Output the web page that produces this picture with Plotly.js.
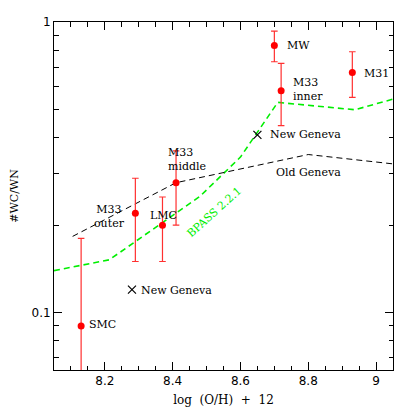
<!DOCTYPE html>
<html><head><meta charset="utf-8">
<script src="https://cdn.plot.ly/plotly-3.0.1.min.js"></script>
<style>html,body{margin:0;padding:0;background:#fff}#chart{width:415px;height:415px}</style>
</head><body><div id="chart"></div>
<script>
// Observations
const obsNames = ['SMC','M33 outer','LMC','M33 middle','MW','M33 inner','M31'];
const obsX = [8.13, 8.29, 8.37, 8.41, 8.70, 8.72, 8.93];
const obsY = [0.090, 0.22, 0.20, 0.28, 0.83, 0.58, 0.67];
const obsErrUp = [0.09, 0.07, 0.05, 0.08, 0.10, 0.14, 0.12];
const obsErrDown = [0.06, 0.07, 0.05, 0.08, 0.10, 0.14, 0.12];
// New Geneva models
const newGenX = [8.28, 8.65];
const newGenY = [0.120, 0.409];
// Old Geneva model
const oldGenX = [8.105, 8.41, 8.80, 9.05];
const oldGenY = [0.183, 0.28, 0.35, 0.325];
// BPASS 2.2.1 model
const bpassX = [8.05, 8.213, 8.48, 8.60, 8.71, 8.938, 9.05];
const bpassY = [0.1395, 0.152, 0.251, 0.343, 0.529, 0.499, 0.543];

const lab = 'DejaVu Serif';
const traces = [
  {x: bpassX, y: bpassY, mode: 'lines', line: {color: '#00ee00', width: 1.6, dash: '6px,4px'}, hoverinfo: 'skip'},
  {x: oldGenX, y: oldGenY, mode: 'lines', line: {color: '#000', width: 1, dash: '6px,4px'}, hoverinfo: 'skip'},
  {x: obsX, y: obsY, mode: 'markers', marker: {color: '#ff0000', size: 7},
   error_y: {type: 'data', symmetric: false, array: obsErrUp, arrayminus: obsErrDown, color: '#ff3030', thickness: 1.2, width: 3.3}},
  {x: newGenX, y: newGenY, mode: 'markers', marker: {symbol: 'x-thin', size: 8, line: {color: '#000', width: 1.2}}}
];
function ann(text, x, logy, xanchor, align, extra) {
  return Object.assign({text: text, x: x, y: logy, xref: 'x', yref: 'y', showarrow: false,
    xanchor: xanchor, yanchor: 'middle', align: align, font: {family: lab, size: 11, color: '#000'}}, extra || {});
}
const annotations = [
  ann('MW', 8.730, -0.0806, 'left', 'left'),
  ann('M33<br>inner', 8.750, -0.2314, 'left', 'left'),
  ann('M31', 8.960, -0.178, 'left', 'left'),
  ann('New Geneva', 8.681, -0.388, 'left', 'left'),
  ann('Old Geneva', 8.8015, -0.518, 'center', 'center'),
  ann('M33<br>middle', 8.380, -0.473, 'left', 'left'),
  ann('M33<br>outer', 8.214, -0.668, 'center', 'center'),
  ann('LMC', 8.373, -0.6646, 'center', 'center'),
  ann('New Geneva', 8.2994, -0.924, 'left', 'left'),
  ann('SMC', 8.1485, -1.040, 'left', 'left'),
  ann('BPASS 2.2.1', 8.522, -0.655, 'center', 'center', {textangle: -42, font: {family: lab, size: 11, color: '#00ee00'}})
];
const layout = {
  width: 415, height: 415,
  margin: {l: 54, r: 22, t: 22, b: 45, pad: 0},
  paper_bgcolor: '#fff', plot_bgcolor: '#fff',
  showlegend: false,
  font: {family: 'DejaVu Sans', size: 12, color: '#000'},
  xaxis: {range: [8.05, 9.05], tickvals: [8.2, 8.4, 8.6, 8.8, 9.0], ticktext: ['8.2','8.4','8.6','8.8','9'],
    ticks: 'inside', ticklen: 8, tickwidth: 1, tickcolor: '#000', mirror: 'allticks',
    showline: true, linecolor: '#000', linewidth: 1, showgrid: false, zeroline: false,
    minor: {ticks: 'inside', ticklen: 4.5, dtick: 0.05, tick0: 8.0, tickcolor: '#000', showgrid: false},
    title: {text: 'log\u00A0\u00A0(O/H)\u00A0\u00A0+\u00A0\u00A012', font: {family: lab, size: 12}, standoff: 8}},
  yaxis: {type: 'log', range: [Math.log10(0.0635), 0], tickvals: [0.1, 1], ticktext: ['0.1', '1'],
    ticks: 'inside', ticklen: 8, tickwidth: 1, tickcolor: '#000', mirror: 'allticks',
    showline: true, linecolor: '#000', linewidth: 1, showgrid: false, zeroline: false,
    minor: {ticks: 'inside', ticklen: 4.5, dtick: 'D1', tickcolor: '#000', showgrid: false},
    title: {text: '#WC/WN', font: {family: lab, size: 11}, standoff: 10}},
  annotations: annotations
};
Plotly.newPlot('chart', traces, layout, {staticPlot: true, displayModeBar: false});
</script></body></html>
